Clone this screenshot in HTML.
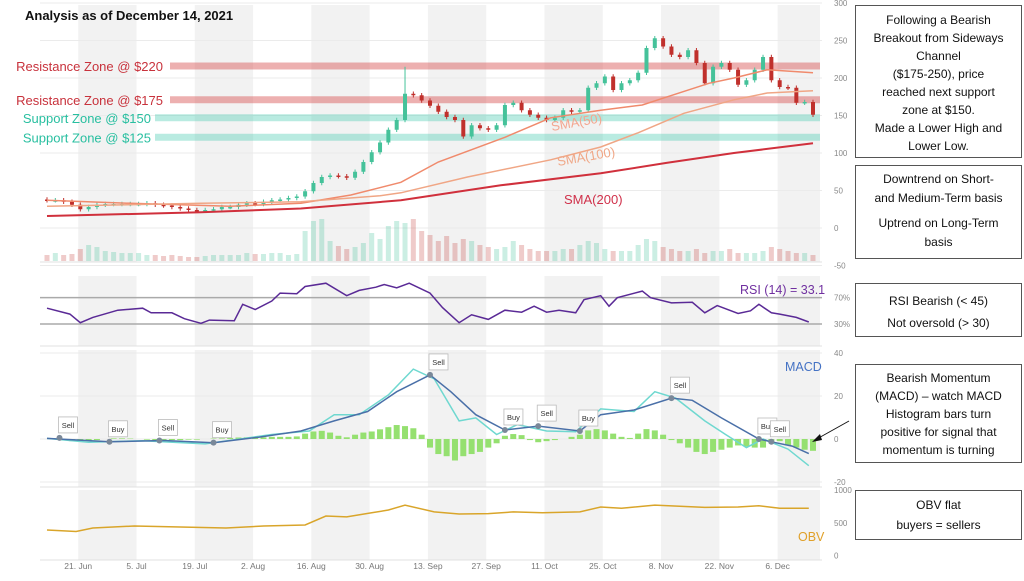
<!DOCTYPE html>
<html><head><meta charset="utf-8"><style>
body{margin:0;background:#fff;}
svg text{font-family:"Liberation Sans",sans-serif;}
</style></head><body>
<svg id="chart" width="1024" height="576" viewBox="0 0 1024 576" xmlns="http://www.w3.org/2000/svg">
<g id="bands"></g><g id="grid"></g><g id="zones"></g><g id="vol"></g><g id="candles"></g><g id="smas"></g><g id="rsi"></g><g id="macd"></g><g id="obv"></g><g id="axes"></g><g id="notes"></g>
</svg>
<script>
// ---- data ----
const closes=[37,37,35,31,25,28,31,32,32,32,32,32,33,31,30,28,26,24,23,24,25,28,28,31,33,32,35,37,38,40,42,49,60,68,70,69,67,75,88,101,114,131,144,179,177,170,163,155,148,144,122,137,133,131,137,164,167,157,151,147,144,147,157,155,157,187,193,202,184,193,197,207,240,253,242,231,228,237,220,193,215,220,211,191,197,211,228,197,188,187,167,168,151];
const volumes=[6,8,6,7,12,16,14,10,9,8,8,8,6,6,5,6,5,4,4,5,6,6,6,6,8,7,7,8,8,6,7,30,40,42,20,15,12,14,18,28,22,35,40,38,42,30,26,20,25,18,22,20,16,14,12,14,20,16,12,10,10,10,12,12,16,20,18,12,10,10,10,16,22,20,14,12,10,10,12,8,10,10,12,8,8,8,10,14,12,10,8,8,6];
const histogram=[0,0,-0.5,-1,-1,-0.8,-0.5,0,0.3,0.3,0.2,0,-0.3,-0.5,-0.5,-0.5,-0.5,-0.3,-0.3,0,0.2,0.3,0.5,0.7,0.8,0.8,0.8,1,1,1,1.2,2.5,3.5,3.8,3,1.5,0.8,2,3,3.5,4.5,5.5,6.5,6,5,2,-4,-7,-8,-10,-8,-7,-6,-4,-2,1.5,2.3,1.8,-0.5,-1.5,-1,-0.5,0,1,2,4,4.6,4,2.5,1,0.5,2.5,4.6,4,2,-0.5,-2,-4,-6,-7,-6,-5,-4,-3,-3.5,-4,-4,-2,-1,-3,-4,-5,-5.5];
const sma50Days=[0,20,44,61,73,85,94,110,121,133,143,149,159,165,173,184];
const sma50Vals=[37,33,29,33,44,61,88,121,147,157,164,175,193,200,211,207];
const sma100Days=[0,37,61,80,85,101,121,133,142,153,165,173,184];
const sma100Vals=[29,33,35,43,47,68,91,108,127,153,171,180,183];
const sma200Days=[0,37,61,85,109,133,149,165,184];
const sma200Vals=[16,21,26,37,57,73,87,100,113];
const rsiDays=[0,5.5,8,11,17,23,25,30,33,37,39,45,47,50,54,56,60,62,67,72,75,79,81,84,87,92,95,99,102,106,110,114,117,120,123,127,129,133,135,137,143,145,150,155,158,161,166,169,171,174,176,180,183];
const rsiVals=[54,45,32,40,51,54,47,47,38,31,36,35,60,52,65,77,76,87,92,73,81,86,90,85,92,77,55,32,44,37,51,48,57,48,51,47,67,73,57,70,80,70,62,63,47,58,46,50,60,47,45,40,33];
const macdDays=[0,15,28,40,51,61,69,77,84,92,97,103,110,118,128,133,141,150,155,162,171,174,179,183];
const macdVals=[0.3,-1.3,-0.7,-1.7,0.9,3.7,8.4,12.8,22,29.8,22,11.3,4.2,6,3.7,11.3,13.5,19,18,9.8,0,-1.3,-3.3,-6.8];
const signalDays=[0,10,23,38,54,63,69,75,82,88,93,99,103,108,113,120,127,133,141,146,151,158,163,168,172,178,183];
const signalVals=[0.3,-1.5,-0.8,-2.3,2.1,3.7,11.3,11.3,20.5,32.5,28,8.4,9.8,2.1,6.7,3.7,3.4,14,12.8,22,19,8.4,2.1,-4,0,-4.7,-12.4];
const obvDays=[0,7,11,21,32,43,52,62,67,72,78,82,86,93,99,106,112,119,128,133,138,146,158,166,171,176,183];
const obvVals=[390,366,420,450,435,420,450,465,603,590,652,695,770,665,633,640,665,652,665,740,720,770,735,740,760,720,720];
const signalMarkDays=[3,15,27,40,92,110,118,128,150,171,174];
const signalMarkVals=[0.5,-1.3,-0.7,-1.7,29.8,4.2,6,3.7,19,0,-1.3];
const signalMarkLabels=["Sell","Buy","Sell","Buy","Sell","Buy","Sell","Buy","Sell","Buy","Sell"];
const priceTicks=[300,250,200,150,100,50,0,-50];
const macdTicks=[40,20,0,-20];
const obvTicks=[1000,500,0];
const dateDays=[7.5,21.5,35.5,49.5,63.5,77.5,91.5,105.5,119.5,133.5,147.5,161.5,175.5];
const dateLabels=["21. Jun","5. Jul","19. Jul","2. Aug","16. Aug","30. Aug","13. Sep","27. Sep","11. Oct","25. Oct","8. Nov","22. Nov","6. Dec"];
const zoneVals=[216,171,147,121];
const zoneLabels=["Resistance Zone @ $220","Resistance Zone @ $175","Support Zone @ $150","Support Zone @ $125"];

// ---- scales ----
const NS="http://www.w3.org/2000/svg";
const X=d=>47+d*4.163;
const yP=v=>228-0.75*v;
const yR=v=>324-(v-30)*0.658;
const yM=v=>439-v*2.15;
const yO=v=>555.5-v*0.0655;
const yV=v=>261-v;
function mk(tag,attrs,parent,text){const e=document.createElementNS(NS,tag);for(const k in attrs)e.setAttribute(k,attrs[k]);if(text!==undefined)e.textContent=text;document.getElementById(parent).appendChild(e);return e;}
function path(days,vals,ys){return days.map((d,i)=>(i?'L':'M')+X(d).toFixed(1)+','+ys(vals[i]).toFixed(1)).join(' ');}

const panels=[[5,262],[276,346],[350,487],[490,560]];
panels.forEach(p=>{
  for(let k=0;k<7;k++){const d0=7.5+k*28;const x0=X(d0),x1=Math.min(X(d0+14),820);
    const r=mk('rect',{x:x0,y:p[0],width:x1-x0,height:p[1]-p[0],fill:'#f2f2f2'},'bands');
    
    }
});
priceTicks.forEach(t=>{const l=mk('line',{x1:40,x2:822,y1:yP(t),y2:yP(t),stroke:'#ebebeb','stroke-width':1},'grid');
  
  const tx=mk('text',{x:834,y:yP(t)+3,'font-size':8,fill:'#888'},'axes',String(t));
  });
[70,30].forEach(t=>{const l=mk('line',{x1:40,x2:822,y1:yR(t),y2:yR(t),stroke:'#aaa','stroke-width':1.5},'grid');
  
  const tx=mk('text',{x:834,y:yR(t)+3,'font-size':8,fill:'#888'},'axes',t+'%');
  });
macdTicks.forEach(t=>{const l=mk('line',{x1:40,x2:822,y1:yM(t),y2:yM(t),stroke:'#ebebeb'},'grid');
  
  const tx=mk('text',{x:834,y:yM(t)+3,'font-size':8,fill:'#888'},'axes',String(t));
  });
obvTicks.forEach(t=>{const tx=mk('text',{x:834,y:yO(t)+3,'font-size':8,fill:'#888'},'axes',String(t));
  });
[262,346,487,560].forEach(y=>{const l=mk('line',{x1:40,x2:822,y1:y,y2:y,stroke:'#e0e0e0'},'grid');
  });
dateDays.forEach((d,i)=>{const tx=mk('text',{x:X(d),y:569,'font-size':8.5,fill:'#777','text-anchor':'middle'},'axes',dateLabels[i]);
  });

zoneVals.forEach((v,i)=>{const res=i<2;const x0=res?170:155;
  const r=mk('rect',{x:x0,y:yP(v)-3.5,width:820-x0,height:7,fill:res?'rgba(214,80,80,0.45)':'rgba(80,205,180,0.4)'},'zones');
  
  const t=mk('text',{x:res?163:151,y:yP(v)+5,'font-size':13,fill:res?'#c8323c':'#28bfa0','text-anchor':'end'},'zones',zoneLabels[i]);
  });

closes.forEach((c,i)=>{const o=i?closes[i-1]:38;const up=c>=o;const x=X(2*i);
  const col=up?'#45c29a':'#c0302c';
  const hi=Math.max(o,c)+(i===43?36:3), lo=Math.min(o,c)-3;
  const w=mk('line',{x1:x,x2:x,y1:yP(hi),y2:yP(lo),stroke:col,'stroke-width':1},'candles');
  
  const b=mk('rect',{x:x-2,y:yP(Math.max(o,c)),width:4,height:Math.max(1.5,Math.abs(yP(o)-yP(c))),fill:col},'candles');
  
  const vb=mk('rect',{x:x-2.5,y:yV(volumes[i]),width:5,height:volumes[i],fill:up?'rgba(69,194,154,0.28)':'rgba(192,48,44,0.25)'},'vol');
  
  const hv=histogram[i];
  const hb=mk('rect',{x:x-3,y:Math.min(yM(0),yM(hv)),width:6,height:Math.abs(yM(hv)-yM(0)),fill:'#95e070'},'macd');
  
});
[[sma50Days,sma50Vals,'#f08a6c',1.5,'sma-50-line'],[sma100Days,sma100Vals,'#f0a685',1.5,'sma-100-line'],[sma200Days,sma200Vals,'#d0303c',2,'sma-200-line']].forEach(s=>{
  const p=mk('path',{d:path(s[0],s[1],yP),fill:'none',stroke:s[2],'stroke-width':s[3]},'smas');
  });
let t;
t=mk('text',{x:552,y:131,'font-size':13,fill:'#f4a690',transform:'rotate(-10 552 131)'},'smas','SMA(50)');
t=mk('text',{x:558,y:166,'font-size':13,fill:'#f0a888',transform:'rotate(-10 558 166)'},'smas','SMA(100)');
t=mk('text',{x:564,y:204,'font-size':13,fill:'#d0304a'},'smas','SMA(200)');
t=mk('path',{d:path(rsiDays,rsiVals,yR),fill:'none',stroke:'#5a2a96','stroke-width':1.5},'rsi');
t=mk('text',{x:740,y:294,'font-size':12.5,fill:'#7030a0'},'rsi','RSI (14) = 33.1');
t=mk('path',{d:path(signalDays,signalVals,yM),fill:'none',stroke:'#6fd8d0','stroke-width':1.5},'macd');
t=mk('path',{d:path(macdDays,macdVals,yM),fill:'none',stroke:'#4a70a8','stroke-width':1.5},'macd');
t=mk('text',{x:785,y:371,'font-size':12.5,fill:'#4472c4'},'macd','MACD');
signalMarkDays.forEach((d,i)=>{const x=X(d),y=yM(signalMarkVals[i]);
  const r=mk('rect',{x:x-1,y:y-21,width:19,height:16,fill:'#fff',stroke:'#bbb','stroke-width':0.8},'macd');
  
  const tx=mk('text',{x:x+8.5,y:y-10,'font-size':7.5,fill:'#333','text-anchor':'middle'},'macd',signalMarkLabels[i]);
  
  const c=mk('circle',{cx:x,cy:y,r:3,fill:'#7a8899'},'macd');
  });
t=mk('path',{d:path(obvDays,obvVals,yO),fill:'none',stroke:'#d9a52a','stroke-width':1.5},'obv');
t=mk('text',{x:798,y:541,'font-size':12.5,fill:'#e0a028'},'obv','OBV');
t=mk('text',{x:25,y:20,'font-size':13,'font-weight':'bold',fill:'#111'},'notes','Analysis as of December 14, 2021');
const boxes=[[5,157,["Following a Bearish","Breakout from Sideways","Channel","($175-250), price","reached next support","zone at $150.","Made a Lower High and","Lower Low."],[24,42,60,78,96,114,132,150]],
 [165,258,["Downtrend on Short-","and Medium-Term basis","Uptrend on Long-Term","basis"],[183,202,227,246]],
 [283,336,["RSI Bearish (< 45)","Not oversold (> 30)"],[305,327]],
 [364,462,["Bearish Momentum","(MACD) – watch MACD","Histogram bars turn","positive for signal that","momentum is turning"],[382,400,418,436,454]],
 [490,539,["OBV flat","buyers = sellers"],[509,529]]];
boxes.forEach(b=>{const r=mk('rect',{x:855.5,y:b[0]+0.5,width:166,height:b[1]-b[0],fill:'#fff',stroke:'#555'},'notes');
  
  b[2].forEach((s,i)=>{const tx=mk('text',{x:938.5,y:b[3][i],'font-size':12,fill:'#111','text-anchor':'middle'},'notes',s);
    });});
t=mk('line',{x1:849,y1:421,x2:815,y2:440,stroke:'#111','stroke-width':1},'notes');
t=mk('path',{d:'M812,442 L820,434 L822,440 Z',fill:'#111'},'notes');
</script>
</body></html>
